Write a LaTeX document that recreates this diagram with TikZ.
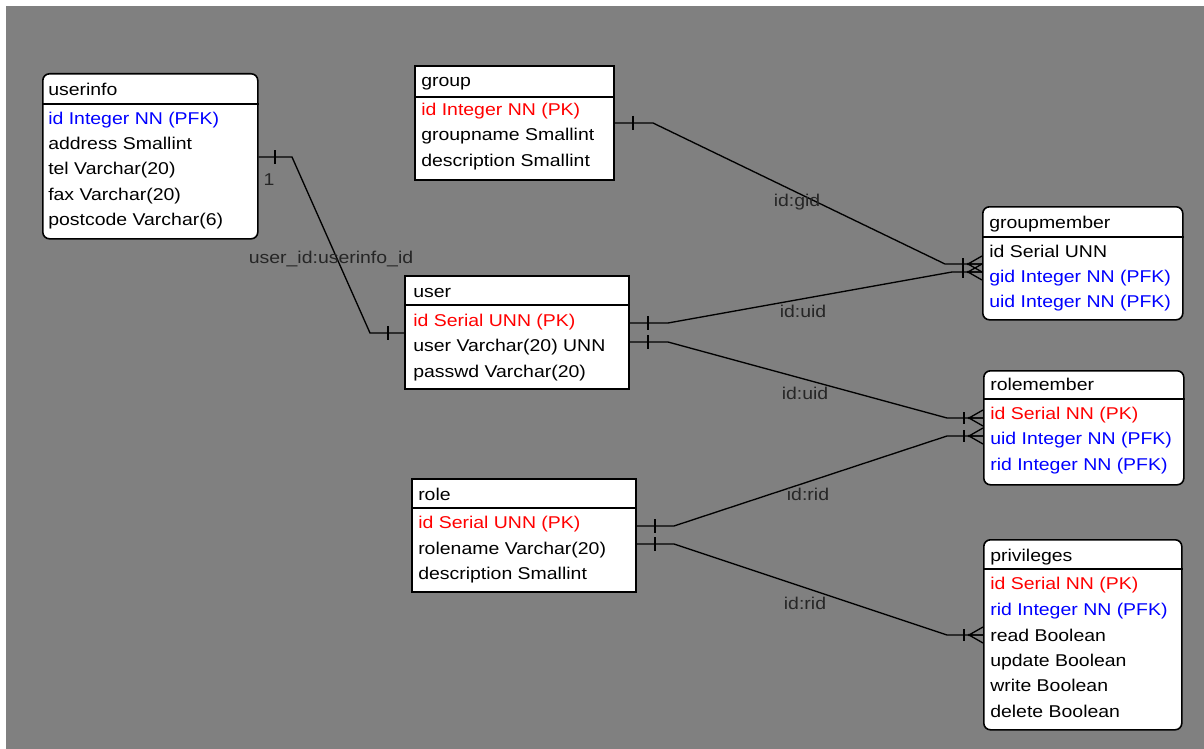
\documentclass[tikz,border=0pt]{standalone}
\usepackage{fontspec}
\newfontfamily\erfam[FakeStretch=1.14]{Liberation Sans}
\newcommand\erfont{\erfam\fontsize{12.8pt}{15pt}\selectfont}
\definecolor{bggray}{HTML}{808080}
\definecolor{pkred}{HTML}{FF0000}
\definecolor{fkblue}{HTML}{0000FF}
\tikzset{
  tbl/.style={draw=black, fill=white, line width=1.2pt, inner sep=0pt, anchor=north west},
  rtbl/.style={tbl, rounded corners=5pt},
  sep/.style={line width=1.2pt},
  fld/.style={anchor=west, inner sep=0pt, font=\erfont, text height=9.6pt, text depth=2.4pt, yshift=-1pt},
  pk/.style={fld, text=pkred},
  fk/.style={fld, text=fkblue},
  conn/.style={line width=1pt, black},
  lbl/.style={inner sep=0pt, font=\erfont, text=black!85, text height=9.6pt, text depth=2.4pt, yshift=-1pt},
}
% one-side tick: x, y
\newcommand\onetick[2]{\draw[conn] (#1,#2-7) -- (#1,#2+7);}
% crow's foot at box edge x, y
\newcommand\crow[2]{%
  \draw[conn] (#1-19,#2-6) -- (#1-19,#2+6);
  \fill (#1-14,#2) circle (1.3);
  \draw[conn] (#1-14,#2) -- (#1,#2-8) (#1-14,#2) -- (#1,#2) (#1-14,#2) -- (#1,#2+8);}
\begin{document}
\begin{tikzpicture}[x=0.75pt,y=-0.75pt]
\useasboundingbox (0,0) rectangle (1204,749);
\fill[white] (0,0) rectangle (1204,749);
\fill[bggray] (6,6) rectangle (1204,749);

% ---------- userinfo ----------
\node[rtbl, minimum width=215*0.75pt, minimum height=165*0.75pt] (userinfo) at (42,73) {};
\draw[sep] (userinfo.west |- 0,104) -- (userinfo.east |- 0,104);
\node[fld] (ui0) at (48,89) {userinfo};
\node[fk]  (ui1) at (48,118) {id Integer NN (PFK)};
\node[fld] (ui2) at (48,143) {address Smallint};
\node[fld] (ui3) at (48,168) {tel Varchar(20)};
\node[fld] (ui4) at (48,194) {fax Varchar(20)};
\node[fld] (ui5) at (48,219) {postcode Varchar(6)};

% ---------- group ----------
\node[tbl, minimum width=199*0.75pt, minimum height=114*0.75pt] (group) at (414,65) {};
\draw[sep] (group.west |- 0,97) -- (group.east |- 0,97);
\node[fld] (g0) at (421,80) {group};
\node[pk]  (g1) at (421,109) {id Integer NN (PK)};
\node[fld] (g2) at (421,134) {groupname Smallint};
\node[fld] (g3) at (421,160) {description Smallint};

% ---------- user ----------
\node[tbl, minimum width=224*0.75pt, minimum height=113*0.75pt] (user) at (404,275) {};
\draw[sep] (user.west |- 0,305) -- (user.east |- 0,305);
\node[fld] (u0) at (413,291) {user};
\node[pk]  (u1) at (413,320) {id Serial UNN (PK)};
\node[fld] (u2) at (413,345) {user Varchar(20) UNN};
\node[fld] (u3) at (413,371) {passwd Varchar(20)};

% ---------- role ----------
\node[tbl, minimum width=224*0.75pt, minimum height=113*0.75pt] (role) at (411,478) {};
\draw[sep] (role.west |- 0,508) -- (role.east |- 0,508);
\node[fld] (r0) at (418,494) {role};
\node[pk]  (r1) at (418,522) {id Serial UNN (PK)};
\node[fld] (r2) at (418,548) {rolename Varchar(20)};
\node[fld] (r3) at (418,573) {description Smallint};

% ---------- groupmember ----------
\node[rtbl, minimum width=200*0.75pt, minimum height=113*0.75pt] (groupmember) at (982,206) {};
\draw[sep] (groupmember.west |- 0,237) -- (groupmember.east |- 0,237);
\node[fld] (gm0) at (989,222) {groupmember};
\node[fld] (gm1) at (989,251) {id Serial UNN};
\node[fk]  (gm2) at (989,276) {gid Integer NN (PFK)};
\node[fk]  (gm3) at (989,301) {uid Integer NN (PFK)};

% ---------- rolemember ----------
\node[rtbl, minimum width=200*0.75pt, minimum height=114*0.75pt] (rolemember) at (983,370) {};
\draw[sep] (rolemember.west |- 0,399) -- (rolemember.east |- 0,399);
\node[fld] (rm0) at (990,384) {rolemember};
\node[pk]  (rm1) at (990,413) {id Serial NN (PK)};
\node[fk]  (rm2) at (990,438) {uid Integer NN (PFK)};
\node[fk]  (rm3) at (990,464) {rid Integer NN (PFK)};

% ---------- privileges ----------
\node[rtbl, minimum width=198*0.75pt, minimum height=190*0.75pt] (privileges) at (983,539) {};
\draw[sep] (privileges.west |- 0,569) -- (privileges.east |- 0,569);
\node[fld] (p0) at (990,555) {privileges};
\node[pk]  (p1) at (990,583) {id Serial NN (PK)};
\node[fk]  (p2) at (990,609) {rid Integer NN (PFK)};
\node[fld] (p3) at (990,635) {read Boolean};
\node[fld] (p4) at (990,660) {update Boolean};
\node[fld] (p5) at (990,685) {write Boolean};
\node[fld] (p6) at (990,711) {delete Boolean};

% ---------- connectors ----------
% userinfo -- user
\draw[conn] (userinfo.east |- 0,157) -- (292,157) -- (370,333) -- (user.west |- 0,333);
\onetick{275}{157}
\onetick{388}{333}
\node[lbl] (one) at (269,179) {1};
\node[lbl] (l1) at (331,257) {user\_id:userinfo\_id};

% group -- groupmember
\draw[conn] (group.east |- 0,123) -- (653,123) -- (945,264) -- (groupmember.west |- 0,264);
\onetick{633}{123}
\crow{982}{264}
\node[lbl] (l2) at (797,200) {id:gid};

% user -- groupmember
\draw[conn] (user.east |- 0,323) -- (668,323) -- (952,272) -- (groupmember.west |- 0,272);
\onetick{648}{323}
\crow{982}{272}
\node[lbl] (l3) at (803,311) {id:uid};

% user -- rolemember
\draw[conn] (user.east |- 0,342) -- (668,342) -- (947,418) -- (rolemember.west |- 0,418);
\onetick{648}{342}
\crow{983}{418}
\node[lbl] (l4) at (805,393) {id:uid};

% role -- rolemember
\draw[conn] (role.east |- 0,526) -- (674,526) -- (947,436) -- (rolemember.west |- 0,436);
\onetick{655}{526}
\crow{983}{436}
\node[lbl] (l5) at (808,494) {id:rid};

% role -- privileges
\draw[conn] (role.east |- 0,544) -- (674,544) -- (947,635) -- (privileges.west |- 0,635);
\onetick{655}{544}
\crow{983}{635}
\node[lbl] (l6) at (805,603) {id:rid};
\end{tikzpicture}
\end{document}
